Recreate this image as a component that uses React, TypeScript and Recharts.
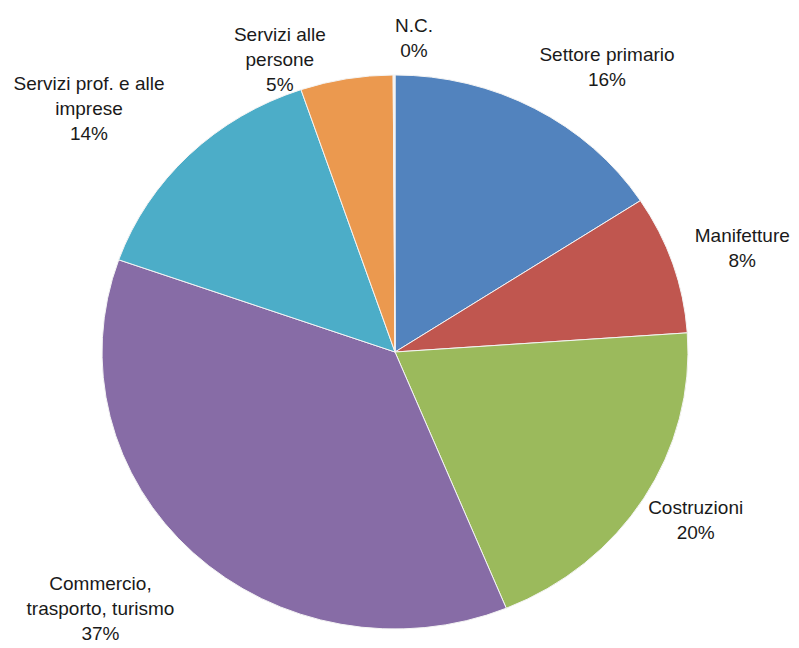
import { PieChart, Pie, Cell } from "recharts";

// sectors, clockwise from 12 o'clock
const categories = [
  "Settore primario",
  "Manifetture",
  "Costruzioni",
  "Commercio,\ntrasporto, turismo",
  "Servizi prof. e alle\nimprese",
  "Servizi alle\npersone",
  "N.C.",
];
const shares = [15.8, 8.1, 19.9, 36.6, 14.4, 5.1, 0.1];
const colors = ["#5283BE", "#C0564F", "#9BBA5C", "#876CA6", "#4CADC8", "#EB994F", "#F2F2F2"];

// the source picture is slightly wider than tall
const SX = 1.028;
const SY = 0.972;
const FONT = "'Liberation Sans', Arial, sans-serif";
const FS = 19;
const LH = 25;
const LABEL_GAP = 30;
// hand nudges where Excel moved labels to avoid collisions
const LABEL_NUDGE: [number, number][] = [
  [26, 7],
  [-4, 1],
  [-14, -7],
  [-21, 7],
  [-26, 1],
  [-54, 47],
  [20, 18],
];

const rows = categories.map((name, i) => ({ name, value: shares[i] }));

let ctx: CanvasRenderingContext2D | null = null;
function textWidth(s: string) {
  if (!ctx) ctx = document.createElement("canvas").getContext("2d");
  if (!ctx) return s.length * FS * 0.5;
  ctx.font = `${FS}px ${FONT}`;
  return ctx.measureText(s).width;
}

const RAD = Math.PI / 180;

function EllipseSector(props: any) {
  const { cx, cy, outerRadius, startAngle, endAngle, fill } = props;
  if (Math.abs(endAngle - startAngle) < 0.01) return null;
  const rx = outerRadius * SX;
  const ry = outerRadius * SY;
  const x1 = cx + rx * Math.cos(startAngle * RAD);
  const y1 = cy - ry * Math.sin(startAngle * RAD);
  const x2 = cx + rx * Math.cos(endAngle * RAD);
  const y2 = cy - ry * Math.sin(endAngle * RAD);
  const large = Math.abs(endAngle - startAngle) > 180 ? 1 : 0;
  const sweep = startAngle > endAngle ? 1 : 0;
  const d = `M${cx},${cy} L${x1},${y1} A${rx},${ry} 0 ${large} ${sweep} ${x2},${y2} Z`;
  return <path d={d} fill={fill} stroke="#f4f4f4" strokeWidth={1} />;
}

function renderLabel(props: any) {
  const { cx, cy, midAngle, outerRadius, percent, index } = props;
  const lines = [...categories[index].split("\n"), `${Math.round(percent * 100)}%`];
  const w = Math.max(...lines.map(textWidth));
  const h = lines.length * LH;
  const c = Math.cos(midAngle * RAD);
  const s = Math.sin(midAngle * RAD);
  const ax = cx + (outerRadius * SX + LABEL_GAP) * c;
  const ay = cy - (outerRadius * SY + LABEL_GAP) * s;
  const [nx, ny] = LABEL_NUDGE[index] ?? [0, 0];
  const x = ax + (w / 2) * c + nx;
  const y = ay - (h / 2) * s + ny;
  const top = y - ((lines.length - 1) * LH) / 2 + FS * 0.35;
  return (
    <text
      x={x}
      y={top}
      textAnchor="middle"
      fontFamily={FONT}
      fontSize={FS}
      fill="#1a1a1a"
    >
      {lines.map((l, i) => (
        <tspan key={i} x={x} dy={i === 0 ? 0 : LH}>
          {l}
        </tspan>
      ))}
    </text>
  );
}

export default function App() {
  return (
    <div style={{ width: 799, height: 648, background: "#ffffff" }}>
      <style>{"body{margin:0}"}</style>
      <PieChart width={799} height={648} margin={{ top: 0, right: 0, bottom: 0, left: 0 }}>
        <Pie
          data={rows}
          dataKey="value"
          nameKey="name"
          cx={395}
          cy={352}
          outerRadius={285}
          startAngle={90}
          endAngle={-270}
          shape={EllipseSector}
          label={renderLabel}
          labelLine={false}
          isAnimationActive={false}
        >
          {rows.map((r, i) => (
            <Cell key={r.name} fill={colors[i]} />
          ))}
        </Pie>
      </PieChart>
    </div>
  );
}
